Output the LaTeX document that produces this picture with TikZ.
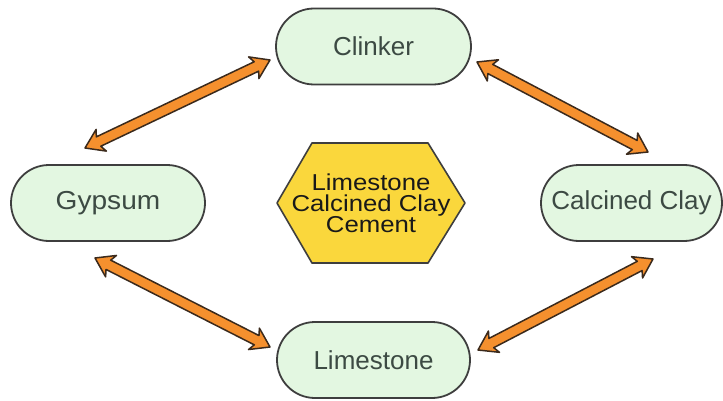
\documentclass[tikz,border=0pt]{standalone}
\usepackage{fontspec}
\setmainfont{Liberation Sans}
\usetikzlibrary{calc,shapes.misc}
\definecolor{mint}{HTML}{E3F7E1}
\definecolor{edgec}{HTML}{3E3E3E}
\definecolor{txtc}{HTML}{3C4A43}
\definecolor{orng}{HTML}{F5902E}
\definecolor{obrd}{HTML}{3B2A1C}
\definecolor{hexy}{HTML}{FAD73C}
\newcommand\sx[1]{\scalebox{1.12}[1]{#1}}
\tikzset{
  item/.style={rounded rectangle, draw=edgec, line width=1.8pt, fill=mint,
    text=txtc, minimum height=76pt, inner sep=0pt,
    font=\fontsize{26}{30}\selectfont},
  hexa/.style={draw=edgec, line width=1.6pt, fill=hexy, line join=round},
  hextext/.style={align=center, text=black!90, font=\fontsize{23}{21}\selectfont},
  fat/.style={fill=orng, draw=obrd, line width=1.5pt, line join=round},
}
\newcommand\fatarrow[2]{%
  \draw[fat] let \p1=($(#2)-(#1)$), \n1={atan2(\y1,\x1)}, \n2={veclen(\x1,\y1)} in
    (#1)
    -- ($(#1)+(\n1:18pt)+(\n1+90:12pt)$)
    -- ($(#1)+(\n1:15pt)+(\n1+90:5.2pt)$)
    -- ($(#1)+(\n1:{(\n2-15)*1pt})+(\n1+90:5.2pt)$)
    -- ($(#1)+(\n1:{(\n2-18)*1pt})+(\n1+90:12pt)$)
    -- (#2)
    -- ($(#1)+(\n1:{(\n2-18)*1pt})+(\n1-90:12pt)$)
    -- ($(#1)+(\n1:{(\n2-15)*1pt})+(\n1-90:5.2pt)$)
    -- ($(#1)+(\n1:15pt)+(\n1-90:5.2pt)$)
    -- ($(#1)+(\n1:18pt)+(\n1-90:12pt)$)
    -- cycle;}
\begin{document}
\begin{tikzpicture}[x=1pt,y=1pt]
\useasboundingbox[fill=white] (0,0) rectangle (723,-401);

\node[item, minimum width=195pt] (clinker) at (373.5,-46.5) {Clinker};
\node[item, minimum width=194pt] (gypsum) at (108,-203) {\scalebox{1.08}[1]{Gypsum}};
\node[item, minimum width=181pt] (clay) at (631.5,-203) {Calcined Clay};
\node[item, minimum width=193pt] (lime) at (373.5,-360) {Limestone};

\draw[hexa] (277,-203) -- (312,-143) -- (428,-143) -- (465,-203) -- (428,-263) -- (312,-263) -- cycle;
\node[hextext] (lc3) at (371,-203) {\sx{Limestone}\\\sx{Calcined Clay}\\\sx{Cement}};

\coordinate (a1) at (85,-148);
\coordinate (a2) at (270,-60);
\coordinate (b1) at (477,-62);
\coordinate (b2) at (648,-152);
\coordinate (c1) at (95,-258);
\coordinate (c2) at (270,-347);
\coordinate (d1) at (478,-350);
\coordinate (d2) at (653,-259);

\fatarrow{a1}{a2}
\fatarrow{b1}{b2}
\fatarrow{c1}{c2}
\fatarrow{d1}{d2}
\end{tikzpicture}
\end{document}
